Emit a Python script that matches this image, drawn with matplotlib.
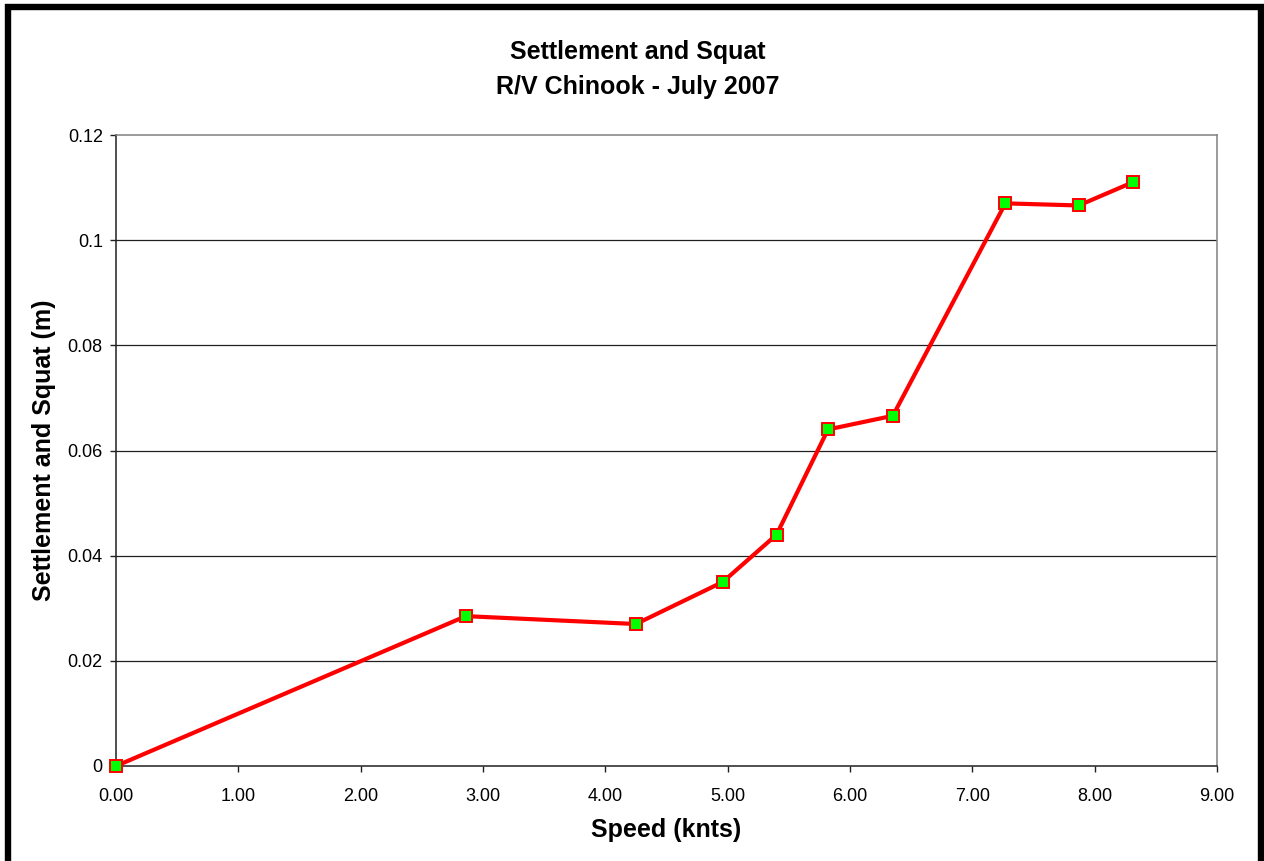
import matplotlib.pyplot as plt
from matplotlib.patches import Rectangle
from matplotlib.ticker import FuncFormatter

plt.rcParams['font.family'] = ['Liberation Sans', 'DejaVu Sans']

# speed (knots) vs settlement and squat (m)
speed = [0.00, 2.86, 4.25, 4.96, 5.40, 5.82, 6.35, 7.27, 7.87, 8.31]
squat = [0.0, 0.0285, 0.027, 0.035, 0.044, 0.064, 0.0666, 0.107, 0.1066, 0.111]

x_ticks = [0, 1, 2, 3, 4, 5, 6, 7, 8, 9]
y_ticks = [0, 0.02, 0.04, 0.06, 0.08, 0.1, 0.12]

fig = plt.figure(figsize=(12.64, 8.61), dpi=100)
ax = fig.add_axes([116 / 1264, 95 / 861, 1101 / 1264, 631 / 861])

# thick black frame round the whole chart (bottom runs off the image)
fig.patches.append(Rectangle((7.5 / 1264, -20 / 861), 1253 / 1264, (861 + 20 - 7) / 861,
                             transform=fig.transFigure, fill=False,
                             edgecolor='black', linewidth=4.6, zorder=0))

for y in y_ticks[1:-1]:
    ax.axhline(y, color='#202020', linewidth=0.9, zorder=1)

ax.plot(speed, squat, color='#ff0000', linewidth=3, marker='s', markersize=8.5,
        markerfacecolor='#00ff00', markeredgecolor='#ff0000', markeredgewidth=1.4,
        clip_on=False, zorder=3)

ax.set_xlim(0, 9)
ax.set_ylim(0, 0.12)
ax.set_xticks(x_ticks)
ax.set_yticks(y_ticks)
ax.xaxis.set_major_formatter(FuncFormatter(lambda v, p: '%.2f' % v))
ax.yaxis.set_major_formatter(FuncFormatter(lambda v, p: '%g' % v))
ax.tick_params(labelsize=13, length=4.5, width=1, color='#202020')
ax.tick_params(axis='x', pad=11)
ax.tick_params(axis='y', pad=5)

ax.spines['left'].set_color('#202020')
ax.spines['bottom'].set_color('#202020')
ax.spines['top'].set_color('#808080')
ax.spines['right'].set_color('#808080')
for s in ax.spines.values():
    s.set_linewidth(1.1)

ax.set_xlabel('Speed (knts)', fontsize=18, fontweight='bold', labelpad=10)
ax.set_ylabel('Settlement and Squat (m)', fontsize=18, fontweight='bold', labelpad=8)

fig.text(638 / 1264, 1 - 52 / 861, 'Settlement and Squat', ha='center', va='center',
         fontsize=18, fontweight='bold')
fig.text(638 / 1264, 1 - 87 / 861, 'R/V Chinook - July 2007', ha='center', va='center',
         fontsize=18, fontweight='bold')

fig.savefig('out.png', dpi=100)
